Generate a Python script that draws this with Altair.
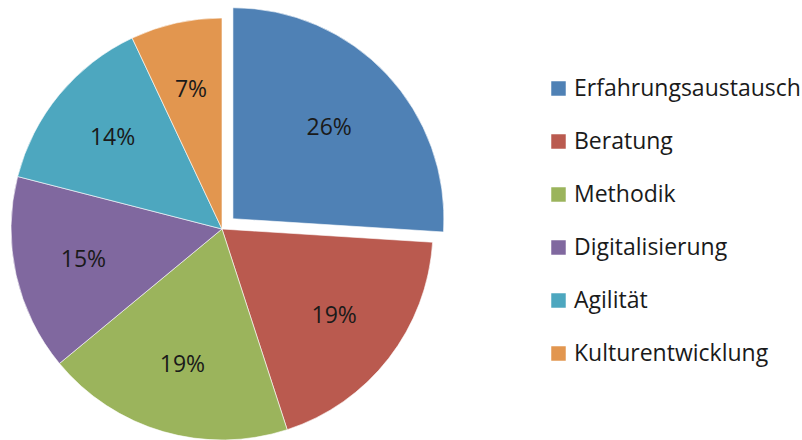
import math
import altair as alt
import pandas as pd

categories = ["Erfahrungsaustausch", "Beratung", "Methodik", "Digitalisierung", "Agilität", "Kulturentwicklung"]
values = [26, 19, 19, 15, 14, 7]
labels = ["26%", "19%", "19%", "15%", "14%", "7%"]
colors = ["#4F81B5", "#BA5A4F", "#9BB45C", "#80689F", "#4DA7BF", "#E2964F"]

df = pd.DataFrame({"cat": categories, "value": values, "label": labels, "order": list(range(len(values)))})

FONT = "Open Sans"
cx, cy, r = 222, 229, 211
explode = 15
half = math.pi * values[0] / sum(values)
ex = cx + explode * math.sin(half)
ey = cy - explode * math.cos(half)

base = alt.Chart(df).encode(
    theta=alt.Theta("value:Q", stack=True),
    order=alt.Order("order:Q", sort="ascending"),
)
color = alt.Color(
    "cat:N",
    sort=categories,
    scale=alt.Scale(domain=categories, range=colors),
    legend=alt.Legend(title=None),
)
is_first = alt.datum.order == 0

main_arc = base.mark_arc(x=cx, y=cy, outerRadius=r, stroke="white", strokeWidth=0.6).encode(
    color=color, opacity=alt.condition(is_first, alt.value(0), alt.value(1))
)
main_text = base.mark_text(x=cx, y=cy, radius=142, font=FONT, fontSize=23, color="#1a1a1a").encode(
    text="label:N", opacity=alt.condition(is_first, alt.value(0), alt.value(1))
)
exp_arc = base.mark_arc(x=ex, y=ey, outerRadius=r, stroke="white", strokeWidth=0.6).encode(
    color=color, opacity=alt.condition(is_first, alt.value(1), alt.value(0))
)
exp_text = base.mark_text(x=ex, y=ey, radius=132, font=FONT, fontSize=23, color="#1a1a1a").encode(
    text="label:N", opacity=alt.condition(is_first, alt.value(1), alt.value(0))
)

chart = alt.layer(main_arc, exp_arc, main_text, exp_text).properties(
    width=802, height=440, padding=0, autosize=alt.AutoSizeParams(type="none")
).configure_view(stroke=None).configure_legend(
    orient="none", legendX=547, legendY=77,
    symbolType="square", symbolSize=210, symbolStrokeWidth=0, symbolOpacity=1,
    labelFont=FONT, labelFontSize=23, labelColor="#1a1a1a", labelOffset=4,
    rowPadding=29, labelLimit=400,
)

chart.save("out.html", embed_options={"renderer": "svg", "actions": False})
